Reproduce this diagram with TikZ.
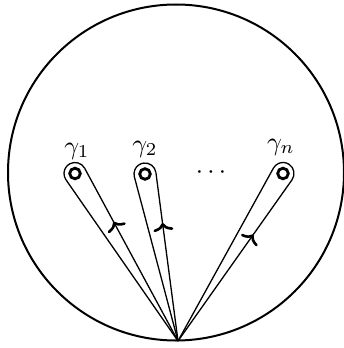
\documentclass[tikz,border=0pt]{standalone}
\usetikzlibrary{calc,decorations.markings,arrows.meta}
\newcommand{\biglbl}[1]{\scalebox{2.6}{#1}}
\tikzset{
  lbl/.style={inner sep=0pt},
  disk/.style={draw, line width=2.8pt},
  outer/.style={draw, line width=2pt},
  loopline/.style={line width=1.3pt},
  arr/.style={postaction={decorate}, decoration={markings, mark=at position #1 with {\arrow{To[length=8pt,width=20pt,line width=2.6pt]}}}}
}
\begin{document}
\begin{tikzpicture}[x=1pt,y=-1pt]
\useasboundingbox (0,0) rectangle (344,348);
\draw[outer] (176,172.5) circle[radius=168pt];
\coordinate (B) at (178,341);
\coordinate (P1) at (75,173.5);
\coordinate (P2) at (145,174);
\coordinate (P3) at (283,173.5);
\foreach \P/\f in {P1/0.69, P2/0.70, P3/0.66}{
  \draw[loopline, arr=\f] let \p1=($(B)-(\P)$), \n1={atan2(\y1,\x1)}, \n2={acos(11pt/veclen(\x1,\y1))} in
    (B) -- ($(\P)+(\n1+\n2:11pt)$);
  \draw[loopline] let \p1=($(B)-(\P)$), \n1={atan2(\y1,\x1)}, \n2={acos(11pt/veclen(\x1,\y1))} in
    ($(\P)+(\n1+\n2:11pt)$) arc[start angle=\n1+\n2, end angle=\n1+360-\n2, radius=11pt] -- (B);
  \draw[disk] (\P) circle[radius=5.3pt];
}
\node[lbl] (g1) at (77,151) {\biglbl{$\gamma_1$}};
\node[lbl] (g2) at (145,149) {\biglbl{$\gamma_2$}};
\node[lbl] (gn) at (281,147) {\biglbl{$\gamma_n$}};
\node[lbl] (dots) at (211,173) {\biglbl{$\cdots$}};
\end{tikzpicture}
\end{document}
